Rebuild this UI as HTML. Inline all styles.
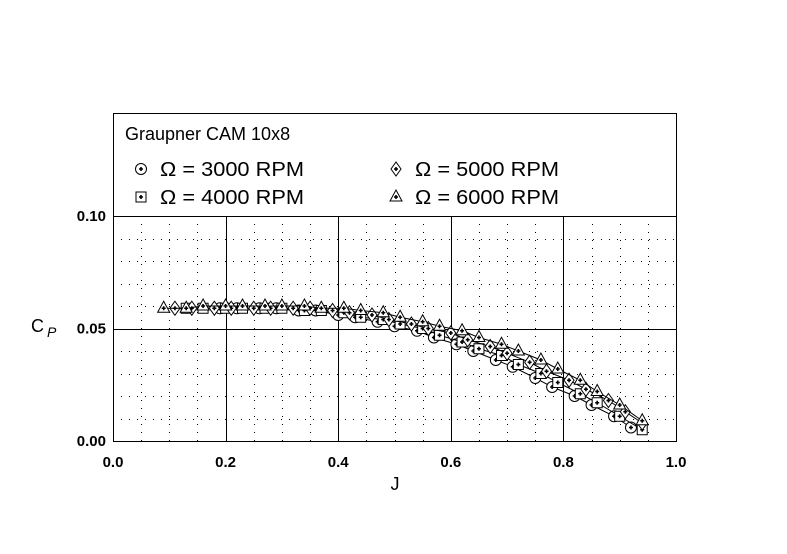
<!DOCTYPE html>
<html><head><meta charset="utf-8"><style>
body{margin:0;background:#fff;}
svg{display:block;font-family:"Liberation Sans",Arial,sans-serif;}
</style></head><body>
<svg id="c" width="787" height="554" viewBox="0 0 787 554"></svg>
<script>
const xTicks=[0.0,0.2,0.4,0.6,0.8,1.0];
const xTickLabels=["0.0","0.2","0.4","0.6","0.8","1.0"];
const yTicks=[0.00,0.05,0.10];
const yTickLabels=["0.00","0.05","0.10"];
const j3000=[0.19,0.22,0.26,0.29,0.33,0.36,0.40,0.43,0.47,0.50,0.54,0.57,0.61,0.64,0.68,0.71,0.75,0.78,0.82,0.85,0.89,0.92];
const cp3000=[0.059,0.059,0.059,0.059,0.058,0.058,0.056,0.055,0.053,0.051,0.049,0.046,0.043,0.040,0.036,0.033,0.028,0.024,0.020,0.016,0.011,0.006];
const j4000=[0.13,0.16,0.20,0.23,0.27,0.30,0.34,0.37,0.41,0.44,0.48,0.51,0.55,0.58,0.62,0.65,0.69,0.72,0.76,0.79,0.83,0.86,0.90,0.94];
const cp4000=[0.059,0.059,0.059,0.059,0.059,0.059,0.058,0.058,0.057,0.055,0.054,0.052,0.050,0.047,0.044,0.041,0.038,0.034,0.030,0.026,0.021,0.017,0.011,0.005];
const j5000=[0.11,0.14,0.18,0.21,0.25,0.28,0.32,0.35,0.39,0.42,0.46,0.49,0.53,0.56,0.60,0.63,0.67,0.70,0.74,0.77,0.81,0.84,0.88,0.91,0.94];
const cp5000=[0.059,0.059,0.059,0.059,0.059,0.059,0.059,0.059,0.058,0.057,0.056,0.054,0.052,0.050,0.048,0.045,0.042,0.039,0.035,0.031,0.027,0.023,0.018,0.013,0.008];
const j6000=[0.09,0.13,0.16,0.20,0.23,0.27,0.30,0.34,0.37,0.41,0.44,0.48,0.51,0.55,0.58,0.62,0.65,0.69,0.72,0.76,0.79,0.83,0.86,0.90,0.94];
const cp6000=[0.059,0.059,0.060,0.060,0.060,0.060,0.060,0.060,0.059,0.059,0.058,0.057,0.055,0.053,0.051,0.049,0.046,0.043,0.040,0.036,0.032,0.027,0.022,0.016,0.009];

const L=113,R=676,B=441,T=113;
const X=v=>L+v*(R-L);
const Y=v=>B-v*2250;
const svg=document.getElementById('c');
const NS='http://www.w3.org/2000/svg';
function mk(tag,at,parent){const e=document.createElementNS(NS,tag);for(const k in at)e.setAttribute(k,at[k]);(parent||svg).appendChild(e);return e;}

const grid=mk('g',{stroke:'#000','stroke-width':1,'stroke-dasharray':'1,7'});


for(let i=1;i<20;i++){const x=Math.round(X(i*0.05))+0.5;mk('line',{x1:x,y1:B,x2:x,y2:Y(0.1)},grid);}
for(let i=1;i<10;i++){const y=Math.round(Y(i*0.01))+0.5;mk('line',{x1:L,y1:y,x2:R,y2:y},grid);}
const mg=mk('g',{stroke:'#000','stroke-width':1});


xTicks.slice(1,-1).forEach(v=>{const x=Math.round(X(v))+0.5;mk('line',{x1:x,y1:B,x2:x,y2:Y(0.1)},mg);});
yTicks.slice(1).forEach(v=>{const y=Math.round(Y(v))+0.5;mk('line',{x1:L,y1:y,x2:R,y2:y},mg);});
const frame=mk('rect',{x:L+0.5,y:T+0.5,width:R-L,height:B-T,fill:'none',stroke:'#000'});



xTicks.forEach((v,i)=>{const t=mk('text',{x:X(v),y:467,'font-size':15,'font-weight':'bold','text-anchor':'middle'});t.textContent=xTickLabels[i];

});
yTicks.forEach((v,i)=>{const t=mk('text',{x:106,y:Y(v)+5,'font-size':15,'font-weight':'bold','text-anchor':'end'});t.textContent=yTickLabels[i];

});
const xt=mk('text',{x:395,y:490,'font-size':18,'text-anchor':'middle'});xt.textContent='J';


const yt=mk('text',{x:31,y:332,'font-size':18});yt.innerHTML='C<tspan font-size="14" font-style="italic" dx="3" dy="5">P</tspan>';



function marker(g,type,x,y){
  if(type==='circle'){mk('circle',{cx:x,cy:y,r:5.5,fill:'#fff',stroke:'#000'},g);}
  else if(type==='square'){mk('rect',{x:x-5,y:y-5,width:10,height:10,fill:'#fff',stroke:'#000'},g);}
  else if(type==='diamond'){mk('polygon',{points:`${x},${y-7} ${x+5},${y} ${x},${y+7} ${x-5},${y}`,fill:'#fff',stroke:'#000'},g);}
  else {mk('polygon',{points:`${x},${y-7} ${x+6},${y+4} ${x-6},${y+4}`,fill:'#fff',stroke:'#000'},g);}
  mk('path',{d:`M${x-2} ${y}H${x+2}M${x} ${y-2}V${y+2}`,stroke:'#000','stroke-width':1.6},g);
}
const series=[['rpm-3000',j3000,cp3000,'circle'],['rpm-4000',j4000,cp4000,'square'],['rpm-5000',j5000,cp5000,'diamond'],['rpm-6000',j6000,cp6000,'triangle']];
series.forEach(([n,js,cs,type])=>{
  const g=mk('g',{});
  
  
  mk('polyline',{points:js.map((j,i)=>X(j)+','+Y(cs[i])).join(' '),fill:'none',stroke:'#000'},g);
  js.forEach((j,i)=>marker(g,type,X(j),Y(cs[i])));
});

const lg=mk('g',{});


const ttl=mk('text',{x:125,y:140,'font-size':18},lg);ttl.textContent='Graupner CAM 10x8';
const entries=[['circle',141,169,'Ω = 3000 RPM'],['square',141,197,'Ω = 4000 RPM'],['diamond',396,169,'Ω = 5000 RPM'],['triangle',396,197,'Ω = 6000 RPM']];
entries.forEach(([type,x,y,label])=>{
  const g=mk('g',{},lg);
  
  
  marker(g,type,x,y);
  const t=mk('text',{x:x+19,y:y+7,'font-size':20,textLength:144,lengthAdjust:'spacingAndGlyphs'},g);t.textContent=label;
});
</script>
</body></html>
